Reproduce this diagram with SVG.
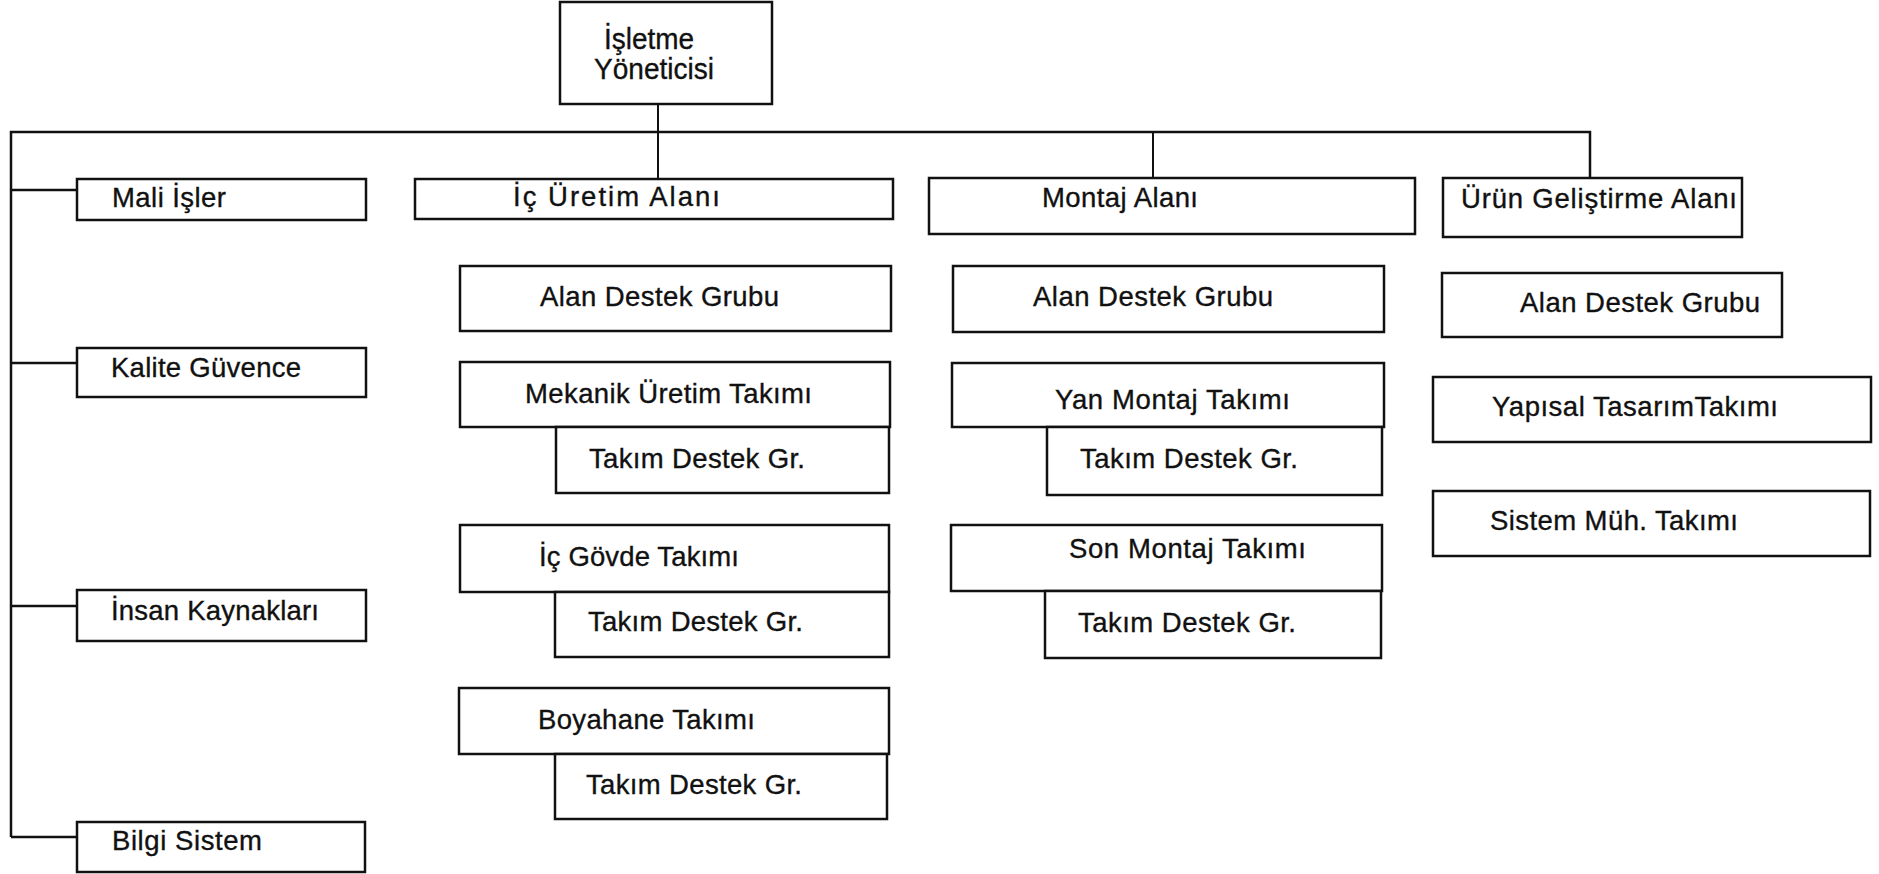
<svg xmlns="http://www.w3.org/2000/svg" width="1879" height="874" viewBox="0 0 1879 874">
<style>
.box{fill:#fff;stroke:#111;stroke-width:2.5}
.t{font-family:"Liberation Sans",Arial,Helvetica,sans-serif;font-size:27.5px;fill:#111;stroke:#111;stroke-width:0.35}
.tt{font-size:29px}
.c{fill:none;stroke:#111;stroke-width:2.5}
.cv{fill:none;stroke:#111;stroke-width:2}
</style>
<rect width="1879" height="874" fill="#fff"/>
<g id="connectors">
<path class="c" d="M11,837 V132 H1590 V178"/>
<path class="cv" d="M658,104 V179"/>
<path class="cv" d="M1153,132 V178"/>
<path class="c" d="M11,190 H77"/>
<path class="c" d="M11,363 H77"/>
<path class="c" d="M11,606 H77"/>
<path class="c" d="M11,837 H77"/>
</g>
<g id="isletme-yoneticisi">
<rect class="box" x="560" y="2" width="212" height="102"/>
<text class="t tt" x="604" y="49" textLength="90" lengthAdjust="spacingAndGlyphs">İşletme</text>
<text class="t tt" x="594" y="79" textLength="120" lengthAdjust="spacingAndGlyphs">Yöneticisi</text>
</g>
<g id="mali-isler">
<rect class="box" x="77" y="179" width="289" height="41"/>
<text class="t" x="112" y="207" textLength="114" lengthAdjust="spacing">Mali İşler</text>
</g>
<g id="kalite-guvence">
<rect class="box" x="77" y="348" width="289" height="49"/>
<text class="t" x="111" y="377" textLength="190" lengthAdjust="spacing">Kalite Güvence</text>
</g>
<g id="insan-kaynaklari">
<rect class="box" x="77" y="590" width="289" height="51"/>
<text class="t" x="111" y="620" textLength="208" lengthAdjust="spacing">İnsan Kaynakları</text>
</g>
<g id="bilgi-sistem">
<rect class="box" x="77" y="822" width="288" height="50"/>
<text class="t" x="112" y="850" textLength="150" lengthAdjust="spacing">Bilgi Sistem</text>
</g>
<g id="ic-uretim-alani">
<rect class="box" x="415" y="179" width="478" height="40"/>
<text class="t" x="513" y="206" textLength="207" lengthAdjust="spacing">İç Üretim Alanı</text>
</g>
<g id="montaj-alani">
<rect class="box" x="929" y="178" width="486" height="56"/>
<text class="t" x="1042" y="207" textLength="156" lengthAdjust="spacing">Montaj Alanı</text>
</g>
<g id="urun-gelistirme-alani">
<rect class="box" x="1443" y="178" width="299" height="59"/>
<text class="t" x="1461" y="208" textLength="276" lengthAdjust="spacing">Ürün Geliştirme Alanı</text>
</g>
<g id="ic-alan-destek">
<rect class="box" x="460" y="266" width="431" height="65"/>
<text class="t" x="540" y="306" textLength="239" lengthAdjust="spacing">Alan Destek Grubu</text>
</g>
<g id="mekanik-uretim">
<rect class="box" x="460" y="362" width="430" height="65"/>
<text class="t" x="525" y="403" textLength="287" lengthAdjust="spacing">Mekanik Üretim Takımı</text>
</g>
<g id="mekanik-destek">
<rect class="box" x="556" y="427" width="333" height="66"/>
<text class="t" x="589" y="468" textLength="216" lengthAdjust="spacing">Takım Destek Gr.</text>
</g>
<g id="ic-govde">
<rect class="box" x="460" y="525" width="429" height="67"/>
<text class="t" x="539" y="566" textLength="200" lengthAdjust="spacing">İç Gövde Takımı</text>
</g>
<g id="ic-govde-destek">
<rect class="box" x="555" y="592" width="334" height="65"/>
<text class="t" x="588" y="631" textLength="215" lengthAdjust="spacing">Takım Destek Gr.</text>
</g>
<g id="boyahane">
<rect class="box" x="459" y="688" width="430" height="66"/>
<text class="t" x="538" y="729" textLength="217" lengthAdjust="spacing">Boyahane Takımı</text>
</g>
<g id="boyahane-destek">
<rect class="box" x="555" y="754" width="332" height="65"/>
<text class="t" x="586" y="794" textLength="216" lengthAdjust="spacing">Takım Destek Gr.</text>
</g>
<g id="montaj-alan-destek">
<rect class="box" x="953" y="266" width="431" height="66"/>
<text class="t" x="1033" y="306" textLength="240" lengthAdjust="spacing">Alan Destek Grubu</text>
</g>
<g id="yan-montaj">
<rect class="box" x="952" y="363" width="432" height="64"/>
<text class="t" x="1055" y="409" textLength="235" lengthAdjust="spacing">Yan Montaj Takımı</text>
</g>
<g id="yan-montaj-destek">
<rect class="box" x="1047" y="427" width="335" height="68"/>
<text class="t" x="1080" y="468" textLength="218" lengthAdjust="spacing">Takım Destek Gr.</text>
</g>
<g id="son-montaj">
<rect class="box" x="951" y="525" width="431" height="66"/>
<text class="t" x="1069" y="558" textLength="237" lengthAdjust="spacing">Son Montaj Takımı</text>
</g>
<g id="son-montaj-destek">
<rect class="box" x="1045" y="591" width="336" height="67"/>
<text class="t" x="1078" y="632" textLength="218" lengthAdjust="spacing">Takım Destek Gr.</text>
</g>
<g id="urun-alan-destek">
<rect class="box" x="1442" y="273" width="340" height="64"/>
<text class="t" x="1520" y="312" textLength="240" lengthAdjust="spacing">Alan Destek Grubu</text>
</g>
<g id="yapisal-tasarim">
<rect class="box" x="1433" y="377" width="438" height="65"/>
<text class="t" x="1492" y="416" textLength="286" lengthAdjust="spacing">Yapısal TasarımTakımı</text>
</g>
<g id="sistem-muh">
<rect class="box" x="1433" y="491" width="437" height="65"/>
<text class="t" x="1490" y="530" textLength="248" lengthAdjust="spacing">Sistem Müh. Takımı</text>
</g>
</svg>
